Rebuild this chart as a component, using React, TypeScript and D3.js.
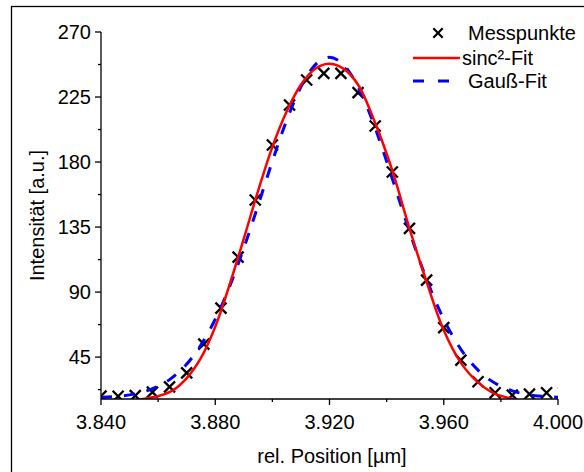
import React from "react";
import * as d3 from "d3";

const xTicks = [3.84, 3.88, 3.92, 3.96, 4.0];
const xMinorTicks = [3.86, 3.9, 3.94, 3.98];
const yTicks = [45, 90, 135, 180, 225, 270];
const yMinorTicks = [22.5, 67.5, 112.5, 157.5, 202.5, 247.5];

// Messpunkte
const dataX = [
  3.84, 3.846, 3.852, 3.858, 3.864, 3.87, 3.876, 3.882, 3.888, 3.894, 3.9, 3.906, 3.912, 3.918,
  3.924, 3.93, 3.936, 3.942, 3.948, 3.954, 3.96, 3.966, 3.972, 3.978, 3.984, 3.99, 3.996, 4.002,
];
const dataY = [
  18.0, 17.9, 18.3, 20.8, 24.4, 34.1, 54.0, 78.9, 114.2, 153.7, 191.8, 219.5, 236.8, 241.4,
  241.4, 228.0, 204.9, 173.1, 134.1, 98.3, 65.4, 42.9, 27.9, 20.3, 18.7, 19.4, 20.3, 20.5,
];

// sinc²-Fit
const sincX = [
  3.85, 3.8548, 3.86, 3.865, 3.87, 3.875, 3.88, 3.885, 3.89, 3.895, 3.9, 3.905, 3.91, 3.915,
  3.9196, 3.925, 3.93, 3.936, 3.942, 3.948, 3.954, 3.96, 3.966, 3.972, 3.978, 3.9844, 3.989,
];
const sincY = [
  13.5, 16, 18.0, 21.8, 30.5, 44.5, 66, 95, 127, 160, 190.5, 215, 233.5, 244.5, 248, 244.5,
  233.5, 207, 174, 134, 97, 63.5, 41, 27.5, 19.5, 16, 13.5,
];

// Gauß-Fit
const gaussX = [
  3.84, 3.844, 3.848, 3.852, 3.856, 3.86, 3.864, 3.868, 3.872, 3.876, 3.88, 3.884, 3.888, 3.892,
  3.896, 3.9, 3.904, 3.908, 3.912, 3.916, 3.92, 3.924, 3.928, 3.932, 3.936, 3.94, 3.944, 3.948,
  3.952, 3.956, 3.96, 3.964, 3.968, 3.972, 3.976, 3.98, 3.984, 3.988, 3.992, 3.996, 4.0,
];
const gaussY = [
  17.2, 17.6, 18.3, 19.6, 21.6, 24.8, 29.4, 36.0, 44.9, 56.6, 71.2, 88.8, 109.3, 132.0, 156.2,
  180.5, 203.5, 223.5, 239.2, 249.1, 252.5, 249.1, 239.2, 223.5, 203.5, 180.5, 156.2, 132.0,
  109.3, 88.8, 71.2, 56.6, 44.9, 36.0, 29.4, 24.8, 21.6, 19.6, 18.3, 17.6, 17.2,
];

const legendLabels = ["Messpunkte", "sinc²-Fit", "Gauß-Fit"];

const FONT = "'Liberation Sans', Arial, sans-serif";

export default function App() {
  const W = 584;
  const H = 472;
  const x = d3.scaleLinear().domain([3.84, 4.0]).range([101, 558]);
  const y = d3.scaleLinear().domain([16, 270]).range([399, 32]);

  const line = d3
    .line<[number, number]>()
    .x((d) => x(d[0]))
    .y((d) => y(d[1]))
    .curve(d3.curveCatmullRom.alpha(0.5));

  const sincPts = sincX.map((v, i) => [v, sincY[i]] as [number, number]);
  const gaussPts = gaussX.map((v, i) => [v, gaussY[i]] as [number, number]);
  const crossPath = "M-5.5,-5.5L5.5,5.5M-5.5,5.5L5.5,-5.5";

  const [x0, x1] = x.range();
  const [yb, yt] = y.range();

  return (
    <svg
      width={W}
      height={H}
      style={{ position: "absolute", left: 0, top: 0, background: "#fff" }}
      fontFamily={FONT}
    >
      <defs>
        <clipPath id="plotClip">
          <rect x={x0} y={yt - 10} width={x1 - x0} height={yb - yt + 10} />
        </clipPath>
      </defs>
      <rect x={0} y={0} width={W} height={H} fill="#fff" />
      {/* outer frame */}
      <rect x={11.5} y={6.5} width={800} height={700} fill="none" stroke="#000" strokeWidth={1.3} />

      <g clipPath="url(#plotClip)">
        {dataX.map((v, i) => (
          <path
            key={i}
            d={crossPath}
            transform={`translate(${x(v)},${y(dataY[i])})`}
            stroke="#000"
            strokeWidth={2.3}
            fill="none"
          />
        ))}
        <path
          d={line(gaussPts) || ""}
          fill="none"
          stroke="#0000ff"
          strokeWidth={3}
          strokeDasharray="11,12"
        />
        <path d={line(sincPts) || ""} fill="none" stroke="#ff0000" strokeWidth={2.5} />
      </g>

      {/* axes */}
      <line x1={x0} x2={x1} y1={yb} y2={yb} stroke="#000" strokeWidth={1.3} />
      <line x1={x0} x2={x0} y1={yb} y2={yt} stroke="#000" strokeWidth={1.3} />
      {xTicks.map((t) => (
        <g key={t}>
          <line x1={x(t)} x2={x(t)} y1={yb} y2={yb + 6} stroke="#000" strokeWidth={1.3} />
          <text x={x(t)} y={yb + 30} textAnchor="middle" fontSize={20}>
            {d3.format(".3f")(t)}
          </text>
        </g>
      ))}
      {xMinorTicks.map((t) => (
        <line key={t} x1={x(t)} x2={x(t)} y1={yb} y2={yb + 3} stroke="#000" strokeWidth={1.3} />
      ))}
      {yTicks.map((t) => (
        <g key={t}>
          <line x1={x0 - 6} x2={x0} y1={y(t)} y2={y(t)} stroke="#000" strokeWidth={1.3} />
          <text x={x0 - 10} y={y(t) + 7} textAnchor="end" fontSize={20}>
            {t}
          </text>
        </g>
      ))}
      {yMinorTicks.map((t) => (
        <line key={t} x1={x0 - 3} x2={x0} y1={y(t)} y2={y(t)} stroke="#000" strokeWidth={1.3} />
      ))}

      {/* axis titles */}
      <text x={332} y={463} textAnchor="middle" fontSize={20}>
        rel. Position [µm]
      </text>
      <text
        transform={`translate(44,${(yb + yt) / 2}) rotate(-90)`}
        textAnchor="middle"
        fontSize={20}
      >
        Intensität [a.u.]
      </text>

      {/* legend */}
      <g>
        <path d={crossPath} transform="translate(438,33) scale(0.85)" stroke="#000" strokeWidth={2.6} fill="none" />
        <text x={468} y={40} fontSize={20}>
          {legendLabels[0]}
        </text>
        <line x1={413} x2={460} y1={58} y2={58} stroke="#ff0000" strokeWidth={2.5} />
        <text x={462} y={65} fontSize={20}>
          {legendLabels[1]}
        </text>
        <line
          x1={413}
          x2={460}
          y1={81}
          y2={81}
          stroke="#0000ff"
          strokeWidth={3}
          strokeDasharray="11,14"
        />
        <text x={468} y={88} fontSize={20}>
          {legendLabels[2]}
        </text>
      </g>
    </svg>
  );
}
